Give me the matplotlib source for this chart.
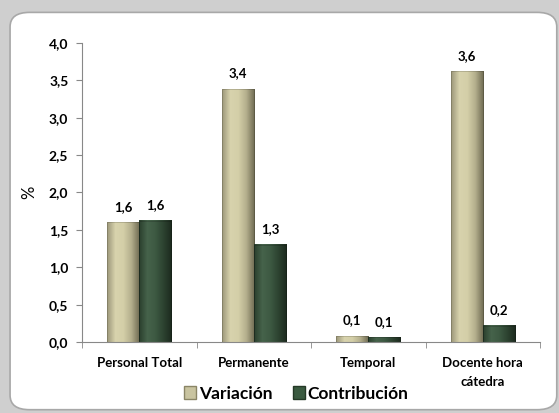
import numpy as np
import matplotlib.pyplot as plt
from matplotlib.patches import FancyBboxPatch, Patch
from matplotlib.colors import LinearSegmentedColormap

categories = ['Personal Total', 'Permanente', 'Temporal', 'Docente hora\ncátedra']
variacion = [1.60, 3.38, 0.08, 3.62]
contribucion = [1.62, 1.30, 0.06, 0.22]
yticks = [0.0, 0.5, 1.0, 1.5, 2.0, 2.5, 3.0, 3.5, 4.0]

plt.rcParams['font.family'] = ['Lato', 'DejaVu Sans']

fig = plt.figure(figsize=(5.59, 4.13), dpi=100, facecolor='#cfcfcf')

# white rounded panel behind everything
panel = FancyBboxPatch((0.018, 0.008), 0.978, 0.962, boxstyle='round,pad=0,rounding_size=0.035',
                       transform=fig.transFigure, facecolor='white', edgecolor='#a8a8a8',
                       linewidth=1.2, zorder=-10)
fig.patches.append(panel)

ax = fig.add_axes([0.147, 0.172, 0.819, 0.724])
ax.set_facecolor('none')
ax.set_zorder(1)

# bevel-like gradients for each series
cm_var = LinearSegmentedColormap.from_list('v', ['#9c977a', '#d8d3ad', '#d4cfa8', '#b3ae8c', '#6e6a52'])
cm_con = LinearSegmentedColormap.from_list('c', ['#2a3f2d', '#46634b', '#3d5942', '#2c4230', '#1c2a1e'])
grad = np.linspace(0, 1, 64).reshape(1, -1)

x = np.arange(len(categories))
w = 0.28
for xs, vals, cmap in [(x - w / 2, variacion, cm_var), (x + w / 2, contribucion, cm_con)]:
    for xc, v in zip(xs, vals):
        ax.imshow(grad, cmap=cmap, extent=(xc - w / 2, xc + w / 2, 0, v), aspect='auto', zorder=2)
        ax.bar(xc, v, w, facecolor='none', edgecolor='#00000030', linewidth=0.6, zorder=3)
        ax.annotate(f'{v:.1f}'.replace('.', ','), (xc, v), xytext=(0, 7), textcoords='offset points',
                    ha='center', va='bottom', fontsize=9.5, fontweight='bold', color='black')

ax.set_xlim(-0.5, len(categories) - 0.5)
ax.set_ylim(0, 4.0)
ax.set_yticks(yticks)
ax.set_yticklabels([f'{t:.1f}'.replace('.', ',') for t in yticks], fontsize=10, fontweight='bold')
ax.set_xticks(x)
ax.set_xticklabels(categories, fontsize=9.5, fontweight='bold')
for lbl in ax.get_xticklabels():
    lbl.set_linespacing(1.7)
ax.set_xticks(np.arange(len(categories) + 1) - 0.5, minor=True)
ax.tick_params(axis='x', which='major', length=0, pad=11)
ax.tick_params(axis='x', which='minor', length=4, color='#888888')
ax.tick_params(axis='y', length=4, color='#888888', pad=6)
for s in ['top', 'right']:
    ax.spines[s].set_visible(False)
for s in ['left', 'bottom']:
    ax.spines[s].set_color('#888888')
ax.set_ylabel('%', fontsize=12, labelpad=8)

# legend
handles = [Patch(facecolor='#c9c4a0', edgecolor='#8a8566', label='Variación'),
           Patch(facecolor='#3a5a40', edgecolor='#243826', label='Contribución')]
fig.legend(handles=handles, loc='center', bbox_to_anchor=(0.53, 0.047), ncol=2, frameon=False,
           prop={'size': 12.5, 'weight': 'bold'}, handlelength=0.7, handleheight=0.7,
           handletextpad=0.15, columnspacing=1.2)

fig.savefig('out.png', dpi=100, facecolor=fig.get_facecolor())
